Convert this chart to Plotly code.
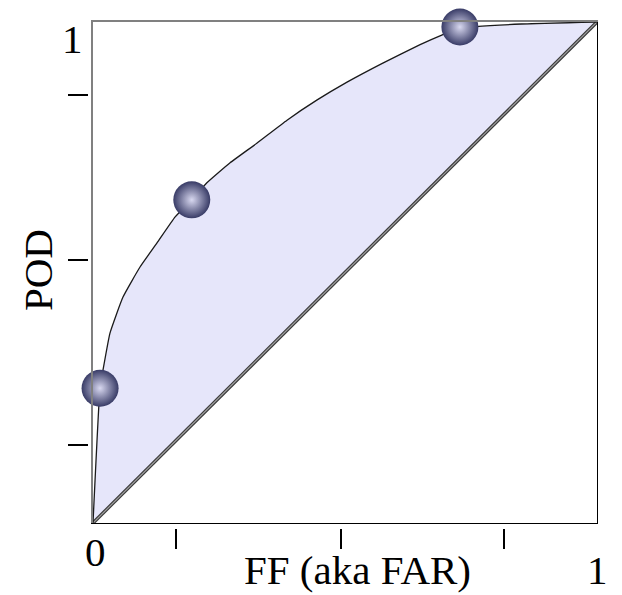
import plotly.graph_objects as go

# ROC curve (FF vs POD)
curve_ff = [0.0, 0.0139, 0.0198, 0.0337, 0.0595, 0.0933, 0.127, 0.163, 0.196, 0.226,
            0.272, 0.325, 0.385, 0.444, 0.504, 0.575, 0.649, 0.692, 0.728, 0.85, 1.0]
curve_pod = [0.0, 0.2695, 0.305, 0.379, 0.451, 0.511, 0.559, 0.611, 0.645, 0.679,
             0.719, 0.758, 0.804, 0.844, 0.880, 0.918, 0.955, 0.974, 0.988, 0.996, 1.0]
# operating points (spheres)
point_ff = [0.014, 0.196, 0.728]
point_pod = [0.269, 0.645, 0.990]
# no-skill diagonal
diag = [0.0, 1.0]
# tick positions (unlabelled)
x_tick_vals = [0.165, 0.492, 0.815]
y_tick_vals = [0.156, 0.525, 0.854]

FONT = dict(family="Liberation Serif, Times New Roman, serif", size=41, color="black")

fig = go.Figure()

# shaded area between curve and diagonal
fig.add_trace(go.Scatter(
    x=curve_ff + diag[::-1], y=curve_pod + diag[::-1],
    fill="toself", fillcolor="#e6e6fa", mode="none", hoverinfo="skip", showlegend=False))

# diagonal (double line look)
fig.add_trace(go.Scatter(x=diag, y=diag, mode="lines",
                         line=dict(color="#3a3a3a", width=3.5), showlegend=False))
fig.add_trace(go.Scatter(x=diag, y=diag, mode="lines",
                         line=dict(color="#a0a0a0", width=1.2), showlegend=False))

# ROC curve
fig.add_trace(go.Scatter(x=curve_ff, y=curve_pod, mode="lines",
                         line=dict(color="#1a1a1a", width=1.3, shape="spline", smoothing=0.4),
                         showlegend=False))

# spheres
fig.add_trace(go.Scatter(
    x=point_ff, y=point_pod, mode="markers", cliponaxis=False,
    marker=dict(size=37, color="#383b66", line=dict(width=0),
                gradient=dict(type="radial", color="#d8d8f0")),
    showlegend=False))

# page body has an 8px margin; compensate so the frame lands where it should
W, H = 614, 587
L, R, T, B = 80, 25, 14, 67
PW, PH = W - L - R, H - T - B
dx = 5 / PW
dy = 5 / PH

fig.update_layout(
    width=W, height=H,
    margin=dict(l=L, r=R, t=T, b=B),
    paper_bgcolor="white", plot_bgcolor="white",
    showlegend=False,
    xaxis=dict(domain=[dx, 1], range=[0, 1], showline=True, linecolor="black", linewidth=1.3,
               showgrid=False, zeroline=False, ticks="", showticklabels=False, anchor="y"),
    xaxis2=dict(domain=[dx, 1], range=[0, 1], overlaying="x", side="top", anchor="y",
                showline=True, linecolor="#808080", linewidth=1.8,
                showgrid=False, zeroline=False, ticks="", showticklabels=False),
    xaxis3=dict(domain=[dx, 1], range=[0, 1], overlaying="x", anchor="free", position=0,
                showline=False, showgrid=False, zeroline=False,
                ticks="outside", tickvals=x_tick_vals, ticklen=20, tickwidth=1.5,
                tickcolor="black", showticklabels=False),
    yaxis=dict(domain=[dy, 1], range=[0, 1], showline=True, linecolor="#808080", linewidth=1.8,
               showgrid=False, zeroline=False, ticks="", showticklabels=False, anchor="x"),
    yaxis2=dict(domain=[dy, 1], range=[0, 1], overlaying="y", side="right", anchor="x",
                showline=True, linecolor="black", linewidth=1.3,
                showgrid=False, zeroline=False, ticks="", showticklabels=False),
    yaxis3=dict(domain=[dy, 1], range=[0, 1], overlaying="y", anchor="free", position=0,
                showline=False, showgrid=False, zeroline=False,
                ticks="outside", tickvals=y_tick_vals, ticklen=20, tickwidth=1.5,
                tickcolor="black", showticklabels=False),
)

# dummy traces so overlay axes are drawn
fig.add_trace(go.Scatter(x=[None], y=[None], xaxis="x2", yaxis="y2", showlegend=False))
fig.add_trace(go.Scatter(x=[None], y=[None], xaxis="x3", yaxis="y3", showlegend=False))

# labels, positioned in data units relative to the frame (converted to paper units)
def to_paper_x(v):
    return dx + v * (1 - dx)

def to_paper_y(v):
    return dy + v * (1 - dy)

labels = [
    dict(text="0", x=0.004, y=-0.058, textangle=0),
    dict(text="1", x=1.0, y=-0.094, textangle=0),
    dict(text="1", x=-0.040, y=0.966, textangle=0),
    dict(text="FF (aka FAR)", x=0.524, y=-0.094, textangle=0),
    dict(text="POD", x=-0.109, y=0.505, textangle=-90),
]
for lb in labels:
    fig.add_annotation(text=lb["text"], x=to_paper_x(lb["x"]), y=to_paper_y(lb["y"]),
                       xref="paper", yref="paper",
                       showarrow=False, font=FONT, textangle=lb["textangle"],
                       xanchor="center", yanchor="middle")

fig.write_html("out.html")
